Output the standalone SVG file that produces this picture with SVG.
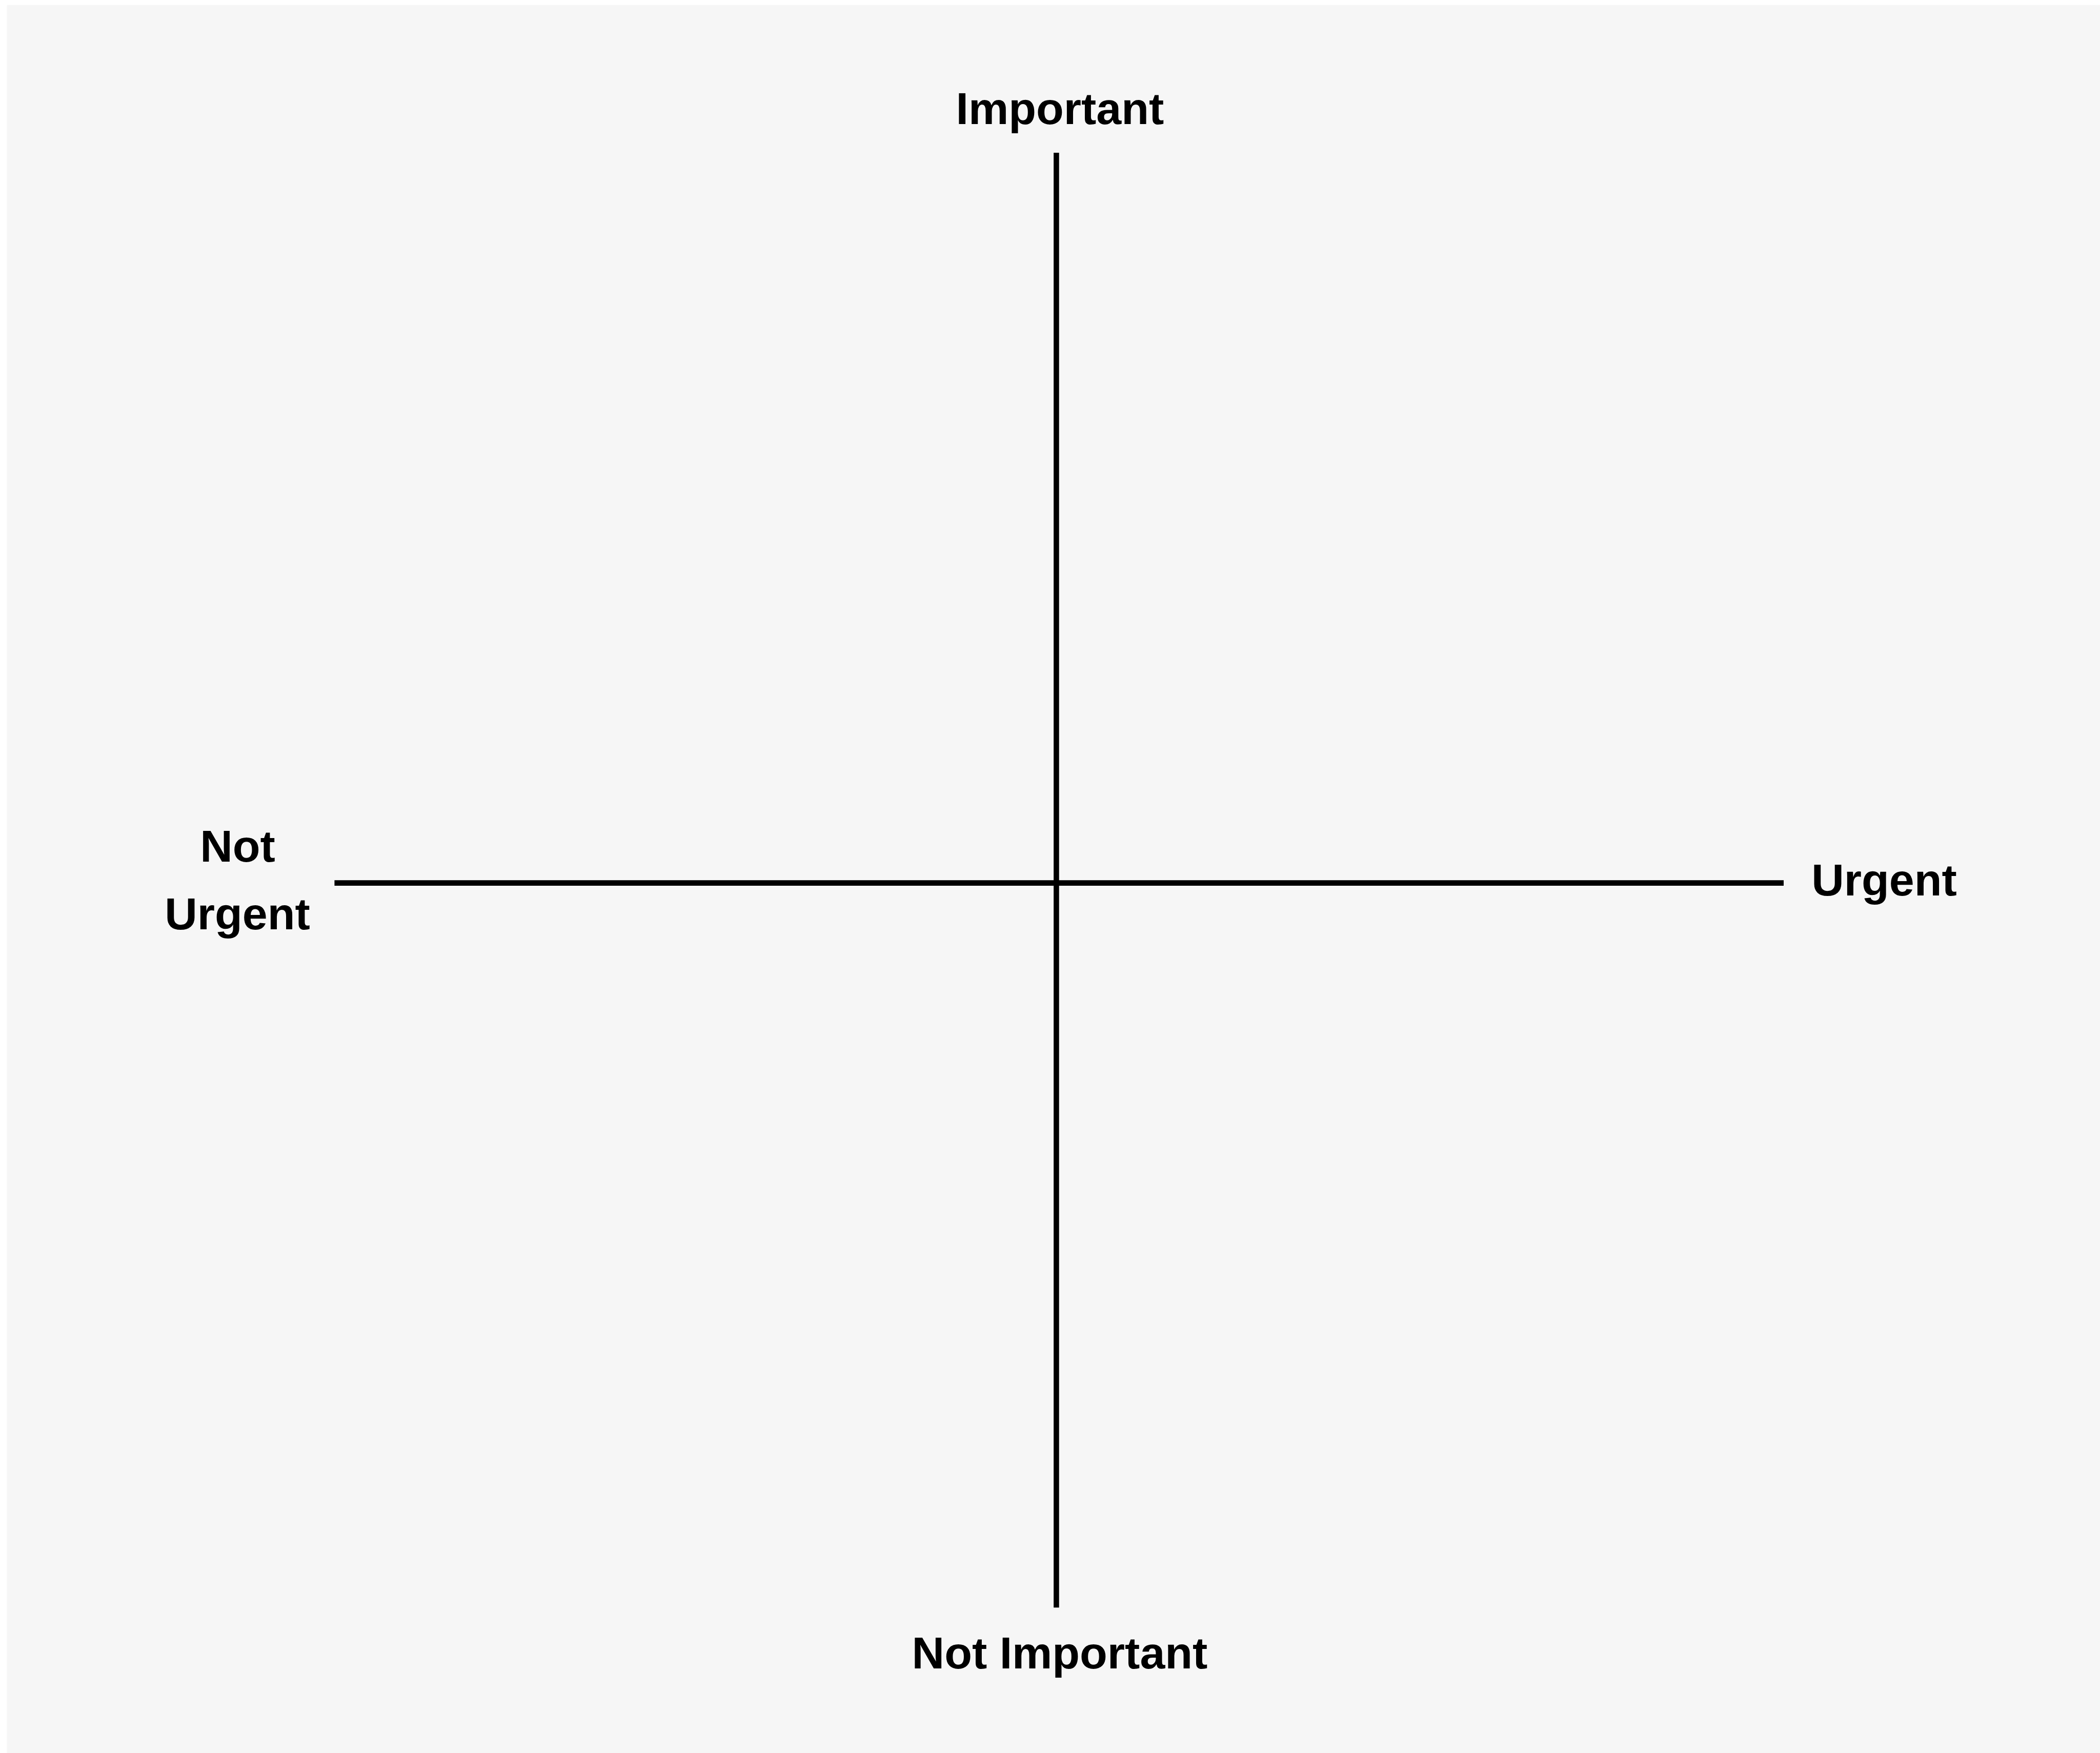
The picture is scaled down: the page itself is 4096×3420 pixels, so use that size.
<svg xmlns="http://www.w3.org/2000/svg" width="4096" height="3420" viewBox="0 0 4096 3420">
<style>
.lbl{font-family:"Liberation Sans",Arial,sans-serif;font-weight:bold;font-size:88px;fill:#000;text-anchor:middle}
.axis{stroke:#000;stroke-width:10.6;fill:none}
</style>
<rect x="0" y="0" width="4096" height="3420" fill="#ffffff"/>
<rect x="13.5" y="9.7" width="4082.5" height="3410.3" fill="#f6f6f6"/>
<g id="connectors">
<line class="axis" x1="2060.4" y1="297.9" x2="2060.4" y2="3136.3"/>
<line class="axis" x1="652.4" y1="1722.6" x2="3479" y2="1722.6"/>
</g>
<g id="important"><text class="lbl" x="2067.5" y="242">Important</text></g>
<g id="not-important"><text class="lbl" x="2067" y="3255">Not Important</text></g>
<g id="not-urgent"><text class="lbl" x="463.5" y="1681">Not</text><text class="lbl" x="463" y="1813">Urgent</text></g>
<g id="urgent"><text class="lbl" x="3675" y="1747">Urgent</text></g>
</svg>
